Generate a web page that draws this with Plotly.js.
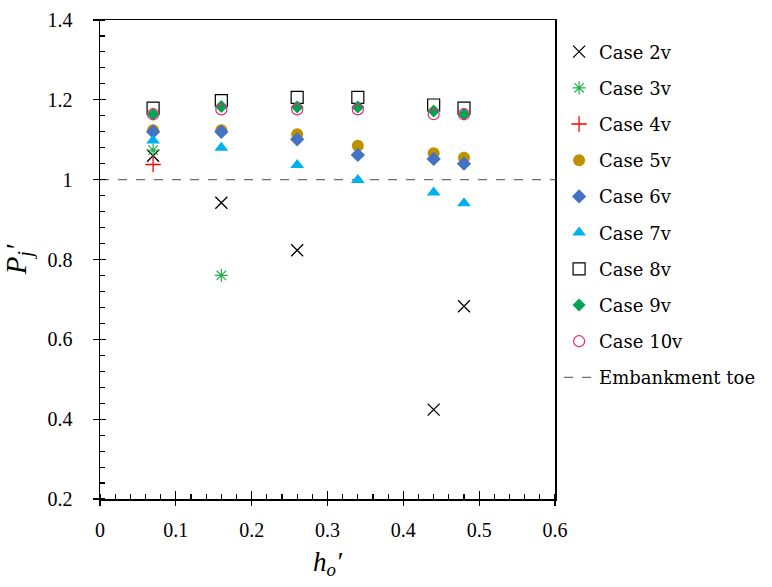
<!DOCTYPE html>
<html>
<head>
<meta charset="utf-8">
<script src="https://cdn.plot.ly/plotly-3.0.1.min.js"></script>
<style>
  body { margin: 0; background: #fff; }
  #chart { width: 772px; height: 587px; }
</style>
</head>
<body>
<div id="chart"></div>
<script>
// values
var case2_x = [0.07, 0.16, 0.26, 0.44, 0.48];
var case2_y = [1.06, 0.942, 0.823, 0.424, 0.683];

var case3_x = [0.07, 0.16];
var case3_y = [1.074, 0.760];

var case4_x = [0.07];
var case4_y = [1.038];

var ho = [0.07, 0.16, 0.26, 0.34, 0.44, 0.48];
var case5_y = [1.124, 1.124, 1.114, 1.085, 1.066, 1.055];
var case6_y = [1.120, 1.120, 1.101, 1.062, 1.052, 1.040];
var case7_y = [1.098, 1.080, 1.037, 0.999, 0.968, 0.941];
var case8_y = [1.179, 1.198, 1.206, 1.206, 1.187, 1.179];
var case9_y = [1.164, 1.183, 1.182, 1.182, 1.172, 1.164];
var case10_y = [1.164, 1.176, 1.176, 1.176, 1.164, 1.164];

var toe_x = [0, 0.6];
var toe_y = [1, 1];

var TICKFONT = 'Liberation Serif';
var TEXTFONT = 'DejaVu Serif';

//one helper for every marker trace
function pts(name, x, y, marker, grp){
    return {
        x: x,
        y: y,
        name: name,
        mode: 'markers',
        type: 'scatter',
        legendgroup: grp,
        marker: marker,
        cliponaxis: false
    };
}

var data = [
    //dashed toe line first so the markers sit on top of it
    {
        x: toe_x,
        y: toe_y,
        name: 'Embankment toe',
        mode: 'lines',
        type: 'scatter',
        legendgroup: 'g11',
        legendrank: 2000,
        line: {color: '#6e6e6e', width: 1.2, dash: 'dash'}
    },
    pts('Case 2v', case2_x, case2_y, {symbol: 'x-thin-open', size: 12, color: '#000', line: {width: 1.3, color: '#000'}}, 'g2'),
    pts('Case 3v', case3_x, case3_y, {symbol: 'asterisk-open', size: 11, color: '#22b14c', line: {width: 1.2, color: '#22b14c'}}, 'g3'),
    pts('Case 4v', case4_x, case4_y, {symbol: 'cross-thin-open', size: 11, color: '#ff0000', line: {width: 1.3, color: '#ff0000'}}, 'g4'),
    pts('Case 5v', ho, case5_y, {symbol: 'circle', size: 12, color: '#bf9000'}, 'g5'),
    pts('Case 6v', ho, case6_y, {symbol: 'diamond', size: 11, color: '#4472c4'}, 'g6'),
    pts('Case 7v', ho, case7_y, {symbol: 'triangle-up', size: 12, color: '#00b0f0'}, 'g7'),
    pts('Case 8v', ho, case8_y, {symbol: 'square-open', size: 12, color: '#000', line: {width: 1.2}}, 'g8'),
    pts('Case 9v', ho, case9_y, {symbol: 'diamond', size: 10, color: '#00a550'}, 'g9'),
    pts('Case 10v', ho, case10_y, {symbol: 'circle-open', size: 11, color: '#e6287a', line: {width: 1.2}}, 'g10')
];

// invisible trace so the overlaid tick axes get drawn
data.push({x: [0], y: [0.2], xaxis: 'x2', yaxis: 'y2', mode: 'markers',
    marker: {opacity: 0}, showlegend: false, hoverinfo: 'skip'});

var layout = {
    width: 772,
    height: 587,
    margin: {l: 100, r: 217, t: 20, b: 88},
    paper_bgcolor: '#fff',
    plot_bgcolor: '#fff',
    font: {family: TEXTFONT, size: 15, color: '#000'},
    showlegend: true,
    legend: {
        x: 1.009, xanchor: 'left',
        y: 0.972, yanchor: 'top',
        tracegroupgap: 9.8,
        itemwidth: 30,
        maxheight: 700,
        font: {family: TEXTFONT, size: 18, color: '#000'},
        bgcolor: 'rgba(0,0,0,0)'
    },
    xaxis: {
        range: [0, 0.6],
        dtick: 0.1,
        tick0: 0,
        showgrid: false,
        zeroline: false,
        showline: true,
        linecolor: '#000',
        linewidth: 1.5,
        mirror: true,
        ticks: 'outside',
        ticklen: 5,
        tickwidth: 1.3,
        tickcolor: '#000',
        ticklabelstandoff: 7,
        tickfont: {family: TICKFONT, size: 20, color: '#000'},
        minor: {dtick: 0.02, ticks: 'inside', ticklen: 5, tickwidth: 1.1, tickcolor: '#000'},
        title: {text: '<i>h<sub>o</sub>′</i>', font: {family: TICKFONT, size: 27}, standoff: 12}
    },
    yaxis: {
        range: [0.2, 1.4],
        dtick: 0.2,
        tick0: 0.2,
        showgrid: false,
        zeroline: false,
        showline: true,
        linecolor: '#000',
        linewidth: 1.5,
        mirror: true,
        ticks: 'outside',
        ticklen: 6,
        tickwidth: 1.3,
        tickcolor: '#000',
        ticklabelstandoff: 16,
        tickfont: {family: TICKFONT, size: 20, color: '#000'},
        minor: {dtick: 0.04, ticks: 'inside', ticklen: 5, tickwidth: 1.1, tickcolor: '#000'},
        title: {text: '<i>P<sub>j</sub>′</i>', font: {family: TICKFONT, size: 29}, standoff: 12}
    },
    // overlaid axes only draw the inside half of the major ticks
    xaxis2: {
        overlaying: 'x', range: [0, 0.6], dtick: 0.1, tick0: 0,
        ticks: 'inside', ticklen: 8, tickwidth: 1.3, tickcolor: '#000',
        showticklabels: false, showgrid: false, zeroline: false, showline: false
    },
    yaxis2: {
        overlaying: 'y', range: [0.2, 1.4], dtick: 0.2, tick0: 0.2,
        ticks: 'inside', ticklen: 6, tickwidth: 1.3, tickcolor: '#000',
        showticklabels: false, showgrid: false, zeroline: false, showline: false
    }
};

Plotly.newPlot('chart', data, layout, {displayModeBar: false, staticPlot: true});
</script>
</body>
</html>
